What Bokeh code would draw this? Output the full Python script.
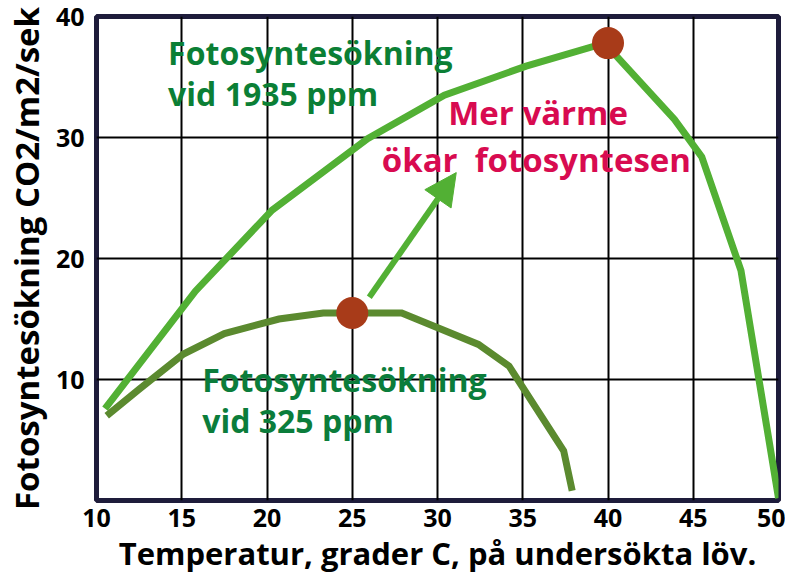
from bokeh.plotting import figure
from bokeh.models import FixedTicker, Label, Arrow, NormalHead
from bokeh.embed import file_html
from bokeh.resources import INLINE

# Data
temp_1935 = [10.5, 15.8, 20.3, 25.9, 30.4, 35.2, 39.8, 43.9, 45.5, 47.8, 50.0]
rate_1935 = [7.6, 17.3, 24.0, 29.9, 33.5, 35.9, 37.8, 31.5, 28.4, 19.0, 0.2]
temp_325 = [10.6, 12.5, 15.1, 17.5, 20.7, 23.3, 25.0, 27.9, 32.4, 34.2, 37.4, 37.9]
rate_325 = [7.0, 9.2, 12.1, 13.8, 15.0, 15.5, 15.5, 15.5, 12.9, 11.1, 4.1, 0.8]
peak_x = [40.0, 25.0]
peak_y = [37.8, 15.5]
x_ticks = [10, 15, 20, 25, 30, 35, 40, 45, 50]
y_ticks = [10, 20, 30, 40]

FONT = "Open Sans"

p = figure(width=785, height=578, x_range=(10, 50), y_range=(0, 40),
           output_backend="svg", toolbar_location=None,
           min_border_left=95, min_border_right=7, min_border_top=16, min_border_bottom=78)
p.outline_line_color = "#1e1c3b"
p.outline_line_width = 5
p.background_fill_color = "white"
p.border_fill_color = "white"

p.xaxis.ticker = FixedTicker(ticks=x_ticks)
p.yaxis.ticker = FixedTicker(ticks=y_ticks)
for ax in (p.xaxis, p.yaxis):
    ax.axis_line_color = None
    ax.major_tick_line_color = None
    ax.minor_tick_line_color = None
    ax.major_label_text_font = FONT
    ax.major_label_text_font_style = "bold"
    ax.major_label_text_font_size = "25px"
    ax.major_label_text_color = "black"
    ax.axis_label_text_font = FONT
    ax.axis_label_text_font_style = "bold"
    ax.axis_label_text_color = "black"
p.xaxis.major_label_standoff = 2
p.yaxis.major_label_standoff = 6
p.xaxis.axis_label = "Temperatur, grader C, på undersökta löv."
p.xaxis.axis_label_text_font_size = "31px"
p.xaxis.axis_label_standoff = 2
p.yaxis.axis_label = "Fotosyntesökning CO2/m2/sek"
p.yaxis.axis_label_text_font_size = "33px"
p.yaxis.axis_label_standoff = 4

p.xgrid.ticker = FixedTicker(ticks=x_ticks)
p.ygrid.ticker = FixedTicker(ticks=y_ticks)
p.grid.grid_line_color = "black"
p.grid.grid_line_width = 2
p.grid.grid_line_alpha = 1

p.line(temp_1935, rate_1935, line_color="#52b034", line_width=7, line_join="miter")
p.line(temp_325, rate_325, line_color="#5b8a2f", line_width=7, line_join="miter")
p.scatter(peak_x, peak_y, size=32, fill_color="#a83b19", line_color=None)

p.add_layout(Arrow(x_start=26.0, y_start=16.8, x_end=31.1, y_end=27.1,
                   line_color="#52b034", line_width=6,
                   end=NormalHead(size=32, fill_color="#52b034", line_color="#52b034", line_width=1)))

def lab(x, y, text, color, size="32px", align="left"):
    p.add_layout(Label(x=x, y=y, text=text, text_color=color, text_font=FONT,
                       text_font_style="bold", text_font_size=size,
                       text_align=align, text_baseline="middle"))

lab(14.2, 37.0, "Fotosyntesökning", "#0b7f35")
lab(14.2, 33.6, "vid 1935 ppm", "#0b7f35")
lab(35.9, 32.1, "Mer värme", "#d80b50", size="33px", align="center")
lab(35.8, 28.2, "ökar\u00a0 fotosyntesen", "#d80b50", size="33px", align="center")
lab(16.2, 10.0, "Fotosyntesökning", "#0b7d3b")
lab(16.2, 6.6, "vid 325 ppm", "#0b7d3b")

open("out.html", "w").write(file_html(p, INLINE))
